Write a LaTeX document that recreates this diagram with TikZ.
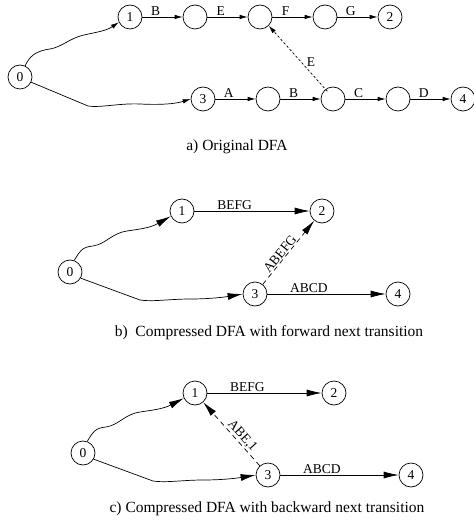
\documentclass[tikz,border=0pt]{standalone}
\usepackage{fontspec}
\setmainfont{Liberation Serif}
\usetikzlibrary{arrows.meta}
\begin{document}
\begin{tikzpicture}[x=1pt,y=-1pt,
  st/.style={draw,circle,minimum size=24pt,inner sep=0pt,line width=0.7pt,font=\fontsize{13.5}{15}\selectfont},
  sm/.style={draw,circle,minimum size=24pt,inner sep=0pt,line width=0.7pt,font=\fontsize{13.5}{15}\selectfont},
  lab/.style={font=\fontsize{13.5}{15}\selectfont,inner sep=1.5pt},
  captxt/.style={font=\fontsize{15.5}{18}\selectfont,inner sep=0pt},
  ea/.style={line width=0.7pt,-{Latex[length=8pt,width=4.5pt]}},
  eb/.style={line width=0.7pt,-{Latex[length=15pt,width=7pt]}},
  da/.style={ea,dash pattern=on 2.5pt off 2pt},
  db/.style={eb,dash pattern=on 5pt off 4pt}]
\useasboundingbox (0,0) rectangle (473,521);
% ---- part a ----
\node[sm] (a0) at (20,77) {0};
\node[sm] (a1) at (130,17) {1};
\node[sm] (aq1) at (195,17) {};
\node[sm] (aq2) at (260,17) {};
\node[sm] (aq3) at (325,17) {};
\node[sm] (a2) at (390,17) {2};
\node[sm] (a3) at (203,99) {3};
\node[sm] (ap1) at (268,99) {};
\node[sm] (ap2) at (333,99) {};
\node[sm] (ap3) at (398,99) {};
\node[sm] (a4) at (463,99) {4};
\draw[ea] (a0.65) .. controls (29,57) and (35,51) .. (50,49)
  .. controls (62,47) and (70,38) .. (84,35)
  .. controls (97,32) and (106,31) .. (a1.205);
\draw[ea] (a0.-25) -- (88,106) .. controls (100,108) and (120,103) .. (140,104)
  .. controls (160,105) and (175,104) .. (a3.west);
\draw[ea] (a1) -- node[lab,above,pos=0.33]{B} (aq1);
\draw[ea] (aq1) -- node[lab,above,pos=0.33]{E} (aq2);
\draw[ea] (aq2) -- node[lab,above,pos=0.33]{F} (aq3);
\draw[ea] (aq3) -- node[lab,above,pos=0.33]{G} (a2);
\draw[ea] (a3) -- node[lab,above,pos=0.33]{A} (ap1);
\draw[ea] (ap1) -- node[lab,above,pos=0.33]{B} (ap2);
\draw[ea] (ap2) -- node[lab,above,pos=0.33]{C} (ap3);
\draw[ea] (ap3) -- node[lab,above,pos=0.33]{D} (a4);
\draw[da] (ap2.north west) ++(3,1) coordinate (es) (es) -- node[lab,right,pos=0.45,xshift=4pt]{E} (aq2.-45);
\node[captxt] (capa) at (237,147) {a) Original DFA};
% ---- part b ----
\node[st] (b0) at (70,272) {0};
\node[st] (b1) at (182,211) {1};
\node[st] (b2) at (322,211) {2};
\node[st] (b3) at (255,294) {3};
\node[st] (b4) at (398,294) {4};
\draw[eb] (b0.70) .. controls (80,251) and (82,247) .. (93,246)
  .. controls (106,244) and (112,233) .. (127,231)
  .. controls (140,229) and (150,228) .. (b1.205);
\draw[eb] (b0.-30) -- (140,300) .. controls (152,302) and (170,299) .. (190,299)
  .. controls (210,299) and (225,297) .. (b3.west);
\draw[eb] (b1) -- node[lab,above,pos=0.35]{BEFG} (b2);
\draw[eb] (b3) -- node[lab,above,pos=0.35]{ABCD} (b4);
\draw[db] (b3) -- node[lab,sloped,above,pos=0.42,inner sep=1pt]{ABEFG} (b2);
\node[captxt] (capb) at (269,333) {b)\ \ Compressed DFA with forward next transition};
% ---- part c ----
\begin{scope}[shift={(13,181)}]
\node[st] (c0) at (70,272) {0};
\node[st] (c1) at (182,212) {1};
\node[st] (c2) at (321,212) {2};
\node[st] (c3) at (255,294) {3};
\node[st] (c4) at (398,294) {4};
\draw[eb] (c0.70) .. controls (80,251) and (82,247) .. (93,246)
  .. controls (106,244) and (112,233) .. (127,231)
  .. controls (140,229) and (150,228) .. (c1.205);
\draw[eb] (c0.-30) -- (140,300) .. controls (152,302) and (170,299) .. (190,299)
  .. controls (210,299) and (225,297) .. (c3.west);
\draw[eb] (c1) -- node[lab,above,pos=0.35]{BEFG} (c2);
\draw[eb] (c3) -- node[lab,above,pos=0.35]{ABCD} (c4);
\draw[db] (c3) -- node[lab,sloped,above,pos=0.4,inner sep=1pt]{ABE,1} (c1);
\end{scope}
\node[captxt] (capc) at (267,509) {c) Compressed DFA with backward next transition};
\end{tikzpicture}
\end{document}
